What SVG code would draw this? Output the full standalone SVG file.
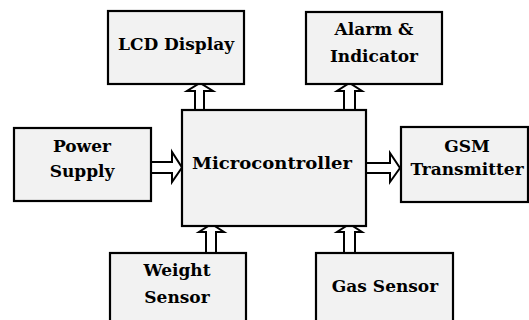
<svg xmlns="http://www.w3.org/2000/svg" width="529" height="320" viewBox="0 0 529 320">
<style>
.box{fill:#f2f2f2;stroke:#000;stroke-width:2.2}
.arr{fill:#fff;stroke:#000;stroke-width:2;stroke-linejoin:miter}
text{font-family:"DejaVu Serif","Liberation Serif",serif;font-weight:bold;font-size:17px;fill:#000;text-anchor:middle}
</style>
<rect width="529" height="320" fill="#fff"/>
<g id="connectors">
<polygon class="arr" points="195,110 195,91 187,91 200,83 213,91 204,91 204,110"/>
<polygon class="arr" points="344,110 344,91 337,91 349.5,83 362,91 355,91 355,110"/>
<polygon class="arr" points="206,253 206,232 199,232 211.5,224 224,232 216,232 216,253"/>
<polygon class="arr" points="344,253 344,232 337,232 349.5,224 362,232 355,232 355,253"/>
<polygon class="arr" points="151,162 172,162 172,152 182,167.5 172,182 172,173 151,173"/>
<polygon class="arr" points="366,163 390,163 390,153 400,168 390,182 390,173 366,173"/>
</g>
<g id="lcd"><rect class="box" x="108" y="11" width="136" height="73"/><text x="176" y="50">LCD Display</text></g>
<g id="alarm"><rect class="box" x="306" y="12" width="136" height="72"/><text x="374" y="35">Alarm &amp;</text><text x="374" y="62">Indicator</text></g>
<g id="power"><rect class="box" x="14" y="128" width="137" height="73"/><text x="82" y="152">Power</text><text x="82" y="177">Supply</text></g>
<g id="micro"><rect class="box" x="182" y="110" width="184" height="116"/><text x="272" y="169" font-size="18" textLength="160" lengthAdjust="spacingAndGlyphs">Microcontroller</text></g>
<g id="gsm"><rect class="box" x="401" y="127" width="127" height="75"/><text x="467" y="152">GSM</text><text x="467" y="175">Transmitter</text></g>
<g id="weight"><rect class="box" x="110" y="253" width="136" height="80"/><text x="177" y="276">Weight</text><text x="177" y="303">Sensor</text></g>
<g id="gas"><rect class="box" x="316" y="253" width="137" height="80"/><text x="385" y="292">Gas Sensor</text></g>
</svg>
